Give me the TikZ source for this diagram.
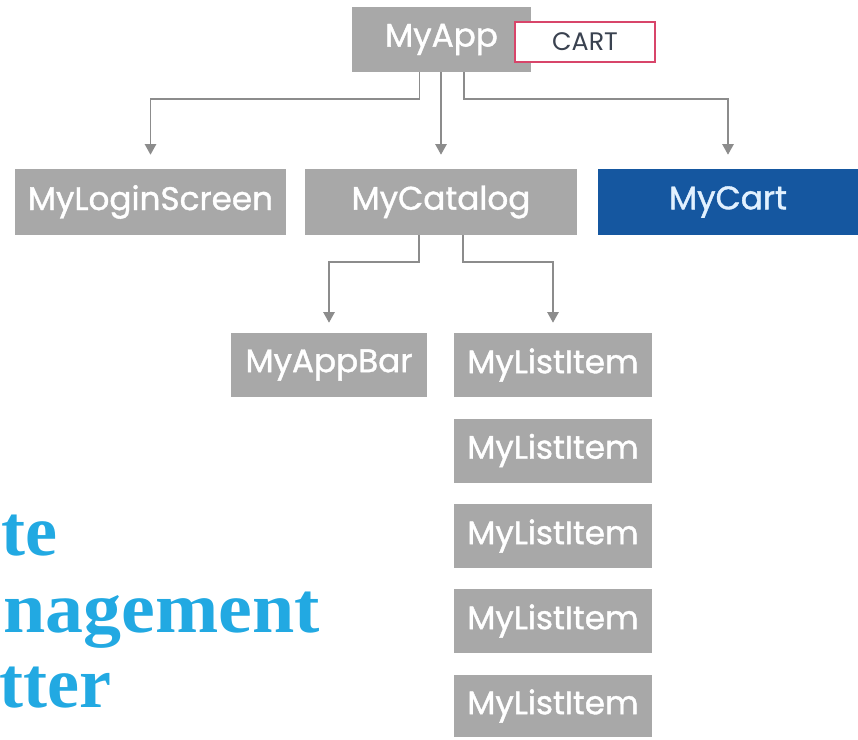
\documentclass[tikz,border=0pt]{standalone}
\usepackage{fontspec}
\setmainfont{Poppins}
\newfontfamily\boxfont{Poppins}[FakeBold=1.2]
\newfontfamily\titlefont{Liberation Serif}
\usetikzlibrary{arrows.meta}
\definecolor{boxgrey}{HTML}{A8A8A8}
\definecolor{linegrey}{HTML}{8C8C8C}
\definecolor{cartblue}{HTML}{1557A0}
\definecolor{cartred}{HTML}{D8456A}
\definecolor{carttext}{HTML}{3A4250}
\definecolor{titleblue}{HTML}{22A9E2}
\definecolor{mycarttext}{HTML}{E2F1FF}
\begin{document}
\begin{tikzpicture}[x=0.75pt,y=-0.75pt,
  box/.style={fill=boxgrey,text=white,inner sep=0pt,minimum height={65*0.75pt},
    font=\boxfont\fontsize{24.5}{28}\selectfont},
  conn/.style={draw=linegrey,line width=1.3pt,-{Triangle[width=8.5pt,length=8pt]}},
  titletext/.style={anchor=base east,text=titleblue,inner sep=0pt,
    font=\titlefont\bfseries\fontsize{54}{60}\selectfont}]
\useasboundingbox (0,0) rectangle (858,740);

% title (cropped at the left edge in the reference)
\node[titletext] (t1) at (58,555) {te};
\node[titletext,xscale=1.055] (t2) at (320,632) {nagement};
\node[titletext] (t3) at (112,707) {tter};

% nodes
\node[box,minimum width={179*0.75pt}] (app) at (441.5,39.5) {MyApp};
\node[draw=cartred,fill=white,line width=1.5pt,text=carttext,inner sep=0pt,
  minimum width={140*0.75pt},minimum height={40*0.75pt},
  font=\fontsize{19}{22}\selectfont] (cart) at (585,42) {CART};

\node[box,minimum width={271*0.75pt},minimum height={66*0.75pt}] (login) at (150.5,202) {MyLoginScreen};
\node[box,minimum width={272*0.75pt},minimum height={66*0.75pt}] (catalog) at (441,202) {MyCatalog};
\node[box,fill=cartblue,text=mycarttext,minimum width={260*0.75pt},minimum height={66*0.75pt}] (mycart) at (728,202) {MyCart};

\node[box,minimum width={196*0.75pt},minimum height={64*0.75pt}] (appbar) at (329,365) {MyAppBar};
\node[box,minimum width={198*0.75pt},minimum height={64*0.75pt}] (item1) at (553,365) {MyListItem};
\node[box,minimum width={198*0.75pt},minimum height={64*0.75pt}] (item2) at (553,450.5) {MyListItem};
\node[box,minimum width={198*0.75pt},minimum height={64*0.75pt}] (item3) at (553,536) {MyListItem};
\node[box,minimum width={198*0.75pt},minimum height={64*0.75pt}] (item4) at (553,621) {MyListItem};
\node[box,minimum width={198*0.75pt},minimum height={62*0.75pt}] (item5) at (553,706) {MyListItem};

% connectors
\coordinate (busA) at (0,99);
\coordinate (busB) at (0,262);
\draw[conn,shorten >=10.5pt] ([xshift=-16.5pt]app.south) |- (busA -| login.north) -- (login.north);
\draw[conn,shorten >=10.5pt] (app.south -| catalog.north) -- (catalog.north);
\draw[conn,shorten >=10.5pt] ([xshift=16.9pt]app.south) |- (busA -| mycart.north) -- (mycart.north);
\draw[conn,shorten >=7.5pt] ([xshift=-16.5pt]catalog.south) |- (busB -| appbar.north) -- (appbar.north);
\draw[conn,shorten >=7.5pt] ([xshift=16.5pt]catalog.south) |- (busB -| item1.north) -- (item1.north);
\end{tikzpicture}
\end{document}
